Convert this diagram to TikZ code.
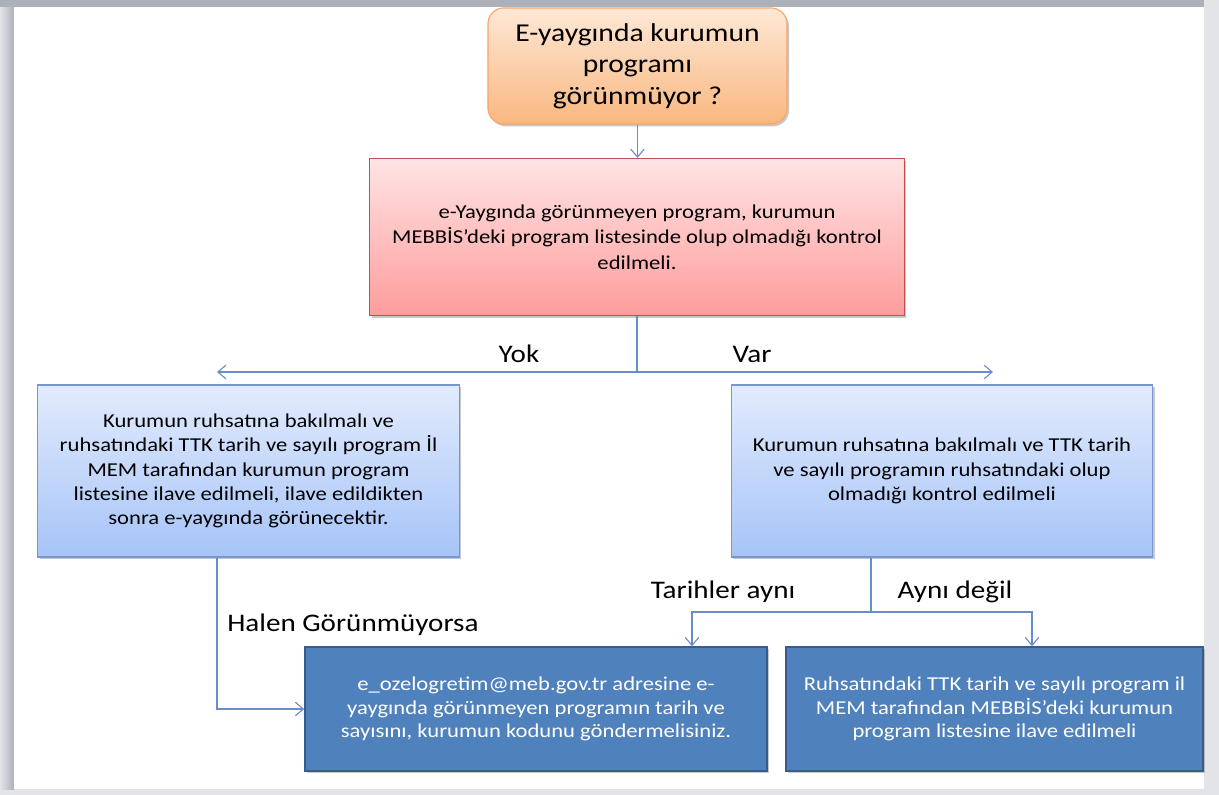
\documentclass[tikz,border=0pt]{standalone}
\usepackage{fontspec}
\setmainfont{Carlito}[FakeStretch=1.15]
\usetikzlibrary{arrows.meta, positioning, shadows}
\definecolor{askborder}{RGB}{246, 166, 104}
\definecolor{asktop}{RGB}{254, 232, 214}
\definecolor{askbot}{RGB}{249, 183, 128}
\definecolor{checkborder}{RGB}{192, 80, 77}
\definecolor{checktop}{RGB}{255, 228, 228}
\definecolor{checkbot}{RGB}{255, 156, 156}
\definecolor{lightborder}{RGB}{118, 150, 206}
\definecolor{lighttop}{RGB}{226, 235, 253}
\definecolor{lightbot}{RGB}{166, 196, 248}
\definecolor{darkfill}{RGB}{79, 129, 189}
\definecolor{darkborder}{RGB}{56, 93, 138}
\definecolor{linkblue}{RGB}{104, 142, 201}
\definecolor{framedark}{RGB}{172, 176, 184}
\definecolor{framelight}{RGB}{226, 228, 231}

\tikzset{
  boxshadow/.style={drop shadow={shadow xshift=0.5mm, shadow yshift=-0.6mm, opacity=0.3, fill=black!70}},
  askbox/.style={draw=askborder, line width=0.8pt, top color=asktop, bottom color=askbot, rounded corners=0.4cm, minimum width=7.475cm, minimum height=2.9cm, align=center, boxshadow, font=\fontsize{18.3}{22.5}\selectfont},
  checkbox/.style={draw=checkborder, line width=0.8pt, top color=checktop, bottom color=checkbot, minimum width=13.35cm, minimum height=3.925cm, align=center, boxshadow, font=\fontsize{14}{18.2}\selectfont},
  lightbox/.style={draw=lightborder, line width=0.8pt, top color=lighttop, bottom color=lightbot, minimum width=10.53cm, minimum height=4.3cm, align=center, boxshadow, font=\fontsize{14}{17.3}\selectfont},
  darkbox/.style={draw=darkborder, line width=1pt, fill=darkfill, text=white, minimum width=11.55cm, minimum height=3.1cm, align=center, boxshadow, font=\fontsize{14}{16.8}\selectfont},
  wire/.style={draw=linkblue, line width=0.8pt},
  link/.style={wire, -{Straight Barb[length=2mm, width=3.4mm]}},
  lbl/.style={inner sep=0pt, font=\fontsize{18}{21}\selectfont}
}

\begin{document}
\begin{tikzpicture}[x=0.025cm, y=-0.025cm]
  \useasboundingbox (0,0) rectangle (1219,795);

  % slide frame
  \fill[framelight] (0,0) rectangle (1219,795);
  \shade[left color=framelight, right color=framedark] (0,0) rectangle (14,789);
  \fill[framedark] (0,0) rectangle (1204,7);
  \fill[white] (14,7) rectangle (1204,789);

  % question
  \node[askbox] (ask) at (637.5,66) {E-yaygında kurumun\\programı\\görünmüyor ?};

  % first check
  \node[checkbox] (check) at (637,237) {
    e-Yaygında görünmeyen program, kurumun\\
    MEBBİS’deki program listesinde olup olmadığı kontrol\\
    edilmeli.
  };

  % Yok / Var
  \node[lightbox] (nobox) at (248.5,471) {
    Kurumun ruhsatına bakılmalı ve\\
    ruhsatındaki TTK tarih ve sayılı program İl\\
    MEM tarafından kurumun program\\
    listesine ilave edilmeli, ilave edildikten\\
    sonra e-yaygında görünecektir.
  };
  \node[lightbox] (yesbox) at (942,471) {
    Kurumun ruhsatına bakılmalı ve TTK tarih\\
    ve sayılı programın ruhsatındaki olup\\
    olmadığı kontrol edilmeli
  };

  % outcomes
  \node[darkbox] (mail) at (536,709) {
    e\_ozelogretim@meb.gov.tr adresine e-\\
    yaygında görünmeyen programın tarih ve\\
    sayısını, kurumun kodunu göndermelisiniz.
  };
  \node[darkbox, minimum width=10.425cm] (addbox) at (994.5,709) {
    Ruhsatındaki TTK tarih ve sayılı program il\\
    MEM tarafından MEBBİS’deki kurumun\\
    program listesine ilave edilmeli
  };

  % connectors
  \coordinate (split) at (637,372);
  \coordinate (noend) at (217,372);
  \coordinate (yesend) at (993,372);
  \coordinate (fork) at (871,612);
  \coordinate (same) at (692,612);
  \coordinate (diff) at (1032,612);

  \draw[link] (ask.south) -- (ask.south |- check.north);
  \draw[wire] (check.south) -- (split);
  \draw[link] (split) -- (noend);
  \draw[link] (split) -- (yesend);
  \draw[link] (nobox.south -| noend) |- (mail.west);
  \draw[wire] (yesbox.south -| fork) -- (fork);
  \draw[link] (fork) -- (same) -- (same |- mail.north);
  \draw[link] (fork) -- (diff) -- (diff |- addbox.north);

  % labels
  \node[lbl] (yok) at (519,354) {Yok};
  \node[lbl] (var) at (752,354) {Var};
  \node[lbl, anchor=west] (halen) at (227,625) {Halen Görünmüyorsa};
  \node[lbl] (samelbl) at (723,592) {Tarihler aynı};
  \node[lbl] (difflbl) at (955,592) {Aynı değil};
\end{tikzpicture}
\end{document}
